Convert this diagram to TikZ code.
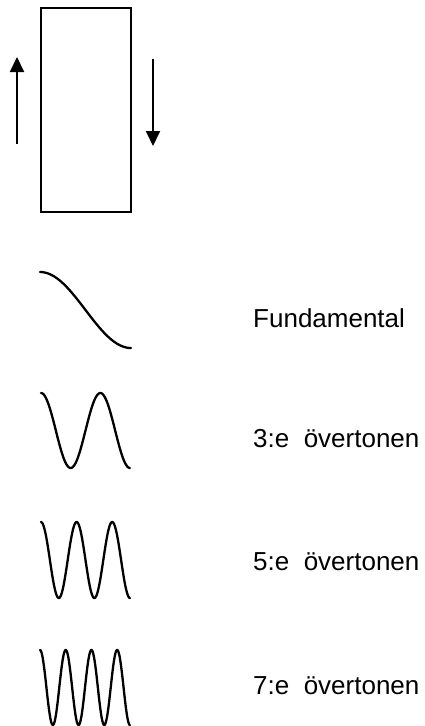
\documentclass[tikz,border=0pt]{standalone}
\usepackage{fontspec}
\setmainfont{Liberation Sans}
\usetikzlibrary{arrows.meta}
\begin{document}
\begin{tikzpicture}[x=1pt,y=-1pt,
  wave/.style={line width=2.3pt,line cap=round,smooth},
  arr/.style={line width=2pt,-{Triangle[length=15pt,width=14pt]}},
  label/.style={anchor=base west,inner sep=0pt,font=\fontsize{26}{30}\selectfont}]
\useasboundingbox (0,0) rectangle (425,726);
% tube
\node[draw,line width=1.7pt,minimum width=90pt,minimum height=204pt,inner sep=0pt,anchor=north west] (tube) at (40,7) {};
% arrows
\coordinate (a1s) at (17,144);
\coordinate (a1e) at (17,57);
\coordinate (a2s) at (153,59);
\coordinate (a2e) at (153,146);
\draw[arr] (a1s) -- (a1e);
\draw[arr] (a2s) -- (a2e);
% waves
\draw[wave] plot[domain=0:1,samples=80] ({40+91*\x},{310-38*cos(180*\x)});
\draw[wave] plot[domain=0:1,samples=120] ({41+89*\x},{430.5-37.5*cos(540*\x)});
\draw[wave] plot[domain=0:1,samples=160] ({41+89*\x},{560-38*cos(900*\x)});
\draw[wave] plot[domain=0:1,samples=200] ({40+90*\x},{687.5-37.5*cos(1260*\x)});
% labels
\node[label] (l1) at (253,327) {Fundamental};
\node[label] (l3) at (253,447) {3:e\ \ övertonen};
\node[label] (l5) at (253,570) {5:e\ \ övertonen};
\node[label] (l7) at (253,694) {7:e\ \ övertonen};
\end{tikzpicture}
\end{document}
